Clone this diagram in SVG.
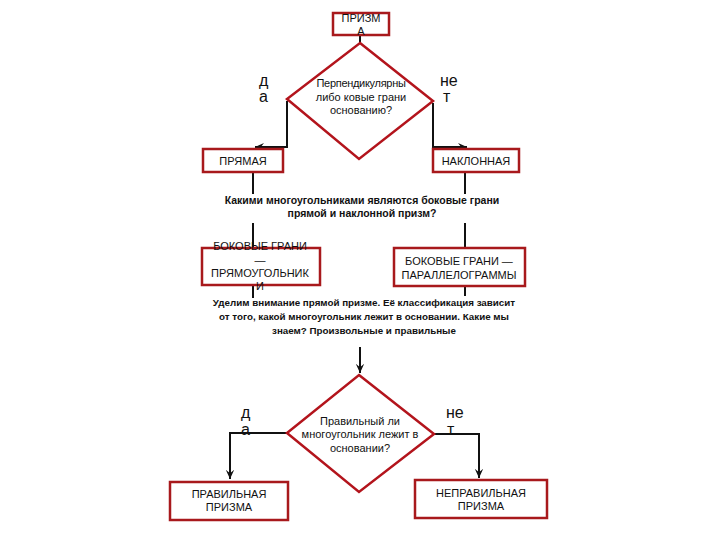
<svg xmlns="http://www.w3.org/2000/svg" width="720" height="540" viewBox="0 0 720 540">
<defs>
<style>
.box{fill:#fff;stroke:#a8191c;stroke-width:2.5}
.dia{fill:#fff;stroke:#b3141c;stroke-width:2.5}
.t{font-family:"Liberation Sans",Arial,sans-serif;font-size:11px;fill:#111;text-anchor:middle}
.q{font-family:"Liberation Sans",Arial,sans-serif;font-size:10.5px;font-weight:bold;fill:#111;text-anchor:middle}
.p{font-family:"Liberation Sans",Arial,sans-serif;font-size:9.8px;font-weight:bold;fill:#111;text-anchor:middle}
.lb{font-family:"Liberation Sans",Arial,sans-serif;font-size:16px;fill:#111}
.ln{fill:none;stroke:#111;stroke-width:2}
</style>
<marker id="ah" viewBox="0 0 12 12" refX="11" refY="6" markerWidth="10" markerHeight="10" orient="auto" markerUnits="userSpaceOnUse">
<path d="M0,1 L11,6 L0,11 L4,6 Z" fill="#111"/>
</marker>
</defs>
<rect width="720" height="540" fill="#fff"/>

<g id="connectors">
<line class="ln" x1="360" y1="35" x2="360" y2="43"/>
<polyline class="ln" points="287,101 287,147 255,147" marker-end="url(#ah)"/>
<polyline class="ln" points="433,103 433,147 467,147" marker-end="url(#ah)"/>
<line class="ln" x1="253" y1="172" x2="253" y2="194"/>
<line class="ln" x1="465" y1="172" x2="465" y2="194"/>
<line class="ln" x1="253" y1="223" x2="253" y2="247"/>
<line class="ln" x1="465" y1="223" x2="465" y2="248"/>
<line class="ln" x1="253" y1="286" x2="253" y2="298"/>
<line class="ln" x1="465" y1="286" x2="465" y2="296"/>
<line class="ln" x1="360" y1="347" x2="360" y2="373" marker-end="url(#ah)"/>
<polyline class="ln" points="288,433 230,433 230,479" marker-end="url(#ah)"/>
<polyline class="ln" points="433,434 479,434 479,478" marker-end="url(#ah)"/>
</g>

<g id="prizma">
<rect class="box" x="333" y="13" width="56" height="22"/>
<text class="t" x="361" y="22">ПРИЗМ</text>
<text class="t" x="361" y="35">А</text>
</g>

<g id="q1">
<polygon class="dia" points="360,43 433,101 359,159 287,99"/>
<text class="t" x="361" y="87" letter-spacing="-0.3">Перпендикулярны</text>
<text class="t" x="361" y="101">либо ковые грани</text>
<text class="t" x="361" y="114">основанию?</text>
</g>

<g id="lbl1">
<text class="lb" x="259" y="86">д</text>
<text class="lb" x="259" y="102">а</text>
<text class="lb" x="440" y="86">не</text>
<text class="lb" x="443" y="102">т</text>
</g>

<g id="pryamaya">
<rect class="box" x="203" y="149" width="80" height="23"/>
<text class="t" x="243" y="165">ПРЯМАЯ</text>
</g>

<g id="naklonnaya">
<rect class="box" x="433" y="149" width="86" height="23"/>
<text class="t" x="476" y="165">НАКЛОННАЯ</text>
</g>

<g id="question1">
<text class="q" x="362" y="204">Какими многоугольниками являются боковые грани</text>
<text class="q" x="362" y="217">прямой и наклонной призм?</text>
</g>

<g id="bok1">
<rect class="box" x="202" y="248" width="118" height="37"/>
<text class="t" x="260" y="250">БОКОВЫЕ ГРАНИ</text>
<text class="t" x="260" y="264">—</text>
<text class="t" x="260" y="277">ПРЯМОУГОЛЬНИК</text>
<text class="t" x="260" y="290">И</text>
</g>

<g id="bok2">
<rect class="box" x="394" y="248" width="131" height="38"/>
<text class="t" x="459" y="265">БОКОВЫЕ ГРАНИ —</text>
<text class="t" x="459" y="279">ПАРАЛЛЕЛОГРАММЫ</text>
</g>

<g id="question2">
<text class="p" x="364" y="306">Уделим внимание прямой призме. Её классификация зависит</text>
<text class="p" x="364" y="320">от того, какой многоугольник лежит в основании. Какие мы</text>
<text class="p" x="364" y="334">знаем? Произвольные и правильные</text>
</g>

<g id="q2">
<polygon class="dia" points="359,375 434,434 359,492 287,433"/>
<text class="t" x="360" y="425">Правильный ли</text>
<text class="t" x="360" y="438">многоугольник лежит в</text>
<text class="t" x="360" y="452">основании?</text>
</g>

<g id="lbl2">
<text class="lb" x="241" y="418">д</text>
<text class="lb" x="241" y="435">а</text>
<text class="lb" x="446" y="418">не</text>
<text class="lb" x="447" y="435">т</text>
</g>

<g id="pravilnaya">
<rect class="box" x="170" y="482" width="118" height="38"/>
<text class="t" x="229" y="498">ПРАВИЛЬНАЯ</text>
<text class="t" x="229" y="511">ПРИЗМА</text>
</g>

<g id="nepravilnaya">
<rect class="box" x="415" y="480" width="132" height="38"/>
<text class="t" x="481" y="497">НЕПРАВИЛЬНАЯ</text>
<text class="t" x="481" y="510">ПРИЗМА</text>
</g>
</svg>
